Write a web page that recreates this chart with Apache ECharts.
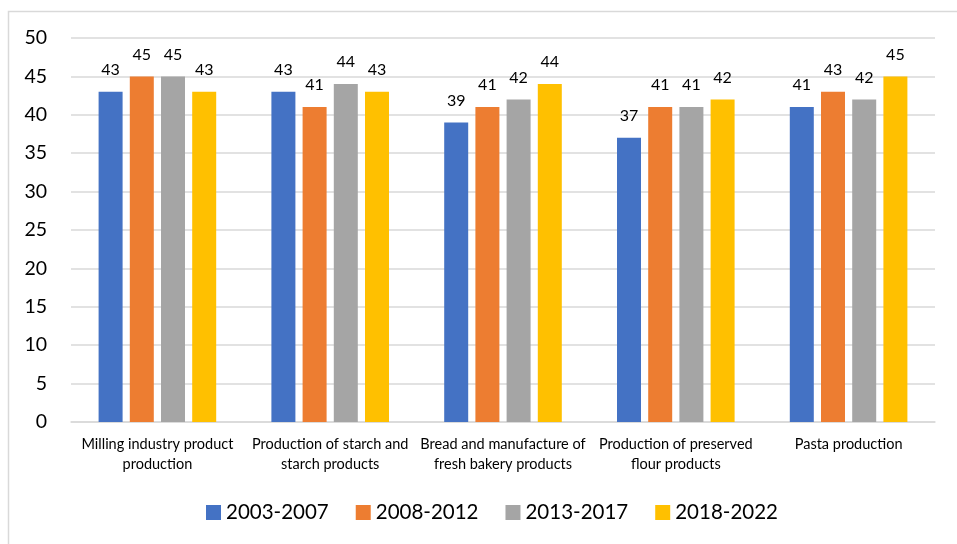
<!DOCTYPE html>
<html><head><meta charset="utf-8">
<script src="https://cdn.jsdelivr.net/npm/echarts@6/dist/echarts.min.js"></script>
<style>html,body{margin:0;padding:0;background:#fff}#c{width:957px;height:544px}</style>
</head><body><div id="c"></div>
<script>
const categories = [
  "Milling industry product\nproduction",
  "Production of starch and\nstarch products",
  "Bread and manufacture of\nfresh bakery products",
  "Production of preserved\nflour products",
  "Pasta production"
];
const seriesNames = ["2003-2007", "2008-2012", "2013-2017", "2018-2022"];
const s2003_2007 = [43, 43, 39, 37, 41];
const s2008_2012 = [45, 41, 41, 41, 43];
const s2013_2017 = [45, 44, 42, 41, 42];
const s2018_2022 = [43, 43, 44, 42, 45];
const colors = ["#4472C4", "#ED7D31", "#A5A5A5", "#FFC000"];
const values = [s2003_2007, s2008_2012, s2013_2017, s2018_2022];
const font = "Lato, 'Open Sans', sans-serif";

const chart = echarts.init(document.getElementById('c'), null, {renderer: 'canvas'});
chart.setOption({
  animation: false,
  textStyle: {fontFamily: font},
  graphic: [{
    type: 'rect', left: 6, top: 9, silent: true,
    shape: {x: 0, y: 0, width: 1000, height: 600},
    style: {fill: null, stroke: '#D9D9D9', lineWidth: 1.5}
  }],
  grid: {left: 71, right: 22, top: 38, bottom: 122, containLabel: false},
  legend: {
    bottom: 16, left: 201,
    itemWidth: 15, itemHeight: 15, itemGap: 27,
    icon: 'rect',
    textStyle: {fontSize: 20.5, color: '#000', fontFamily: font},
    data: seriesNames
  },
  xAxis: {
    type: 'category', data: categories,
    axisLine: {lineStyle: {color: '#D9D9D9', width: 1.5}},
    axisTick: {show: false},
    axisLabel: {fontSize: 14.5, color: '#000', margin: 12, lineHeight: 20, interval: 0, fontFamily: font}
  },
  yAxis: {
    type: 'value', min: 0, max: 50, interval: 5,
    axisLine: {show: false}, axisTick: {show: false},
    splitLine: {lineStyle: {color: '#D9D9D9', width: 1.5}},
    axisLabel: {fontSize: 19.5, color: '#000', margin: 24, fontFamily: font}
  },
  series: seriesNames.map((n, i) => ({
    name: n, type: 'bar', data: values[i],
    itemStyle: {color: colors[i]},
    barWidth: 24, barGap: '30%', barCategoryGap: '32%',
    label: {show: true, position: 'top', distance: 14, fontSize: 16, color: '#000', fontFamily: font}
  }))
});
</script></body></html>
